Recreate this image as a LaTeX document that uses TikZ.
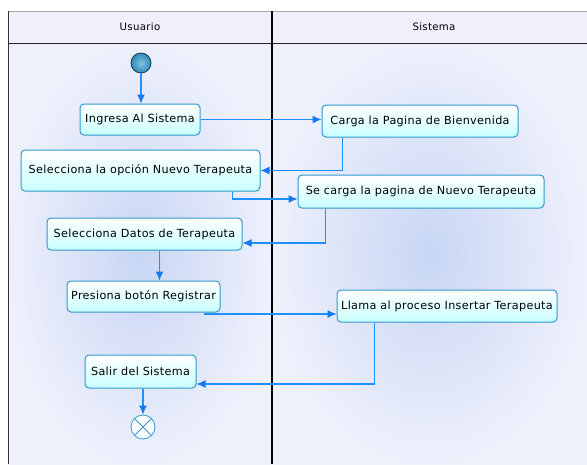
\documentclass[tikz,border=0pt]{standalone}
\usepackage{fontspec}
\setmainfont{DejaVu Sans}[LetterSpace=3]
\usetikzlibrary{arrows.meta,calc}
\definecolor{flowc}{RGB}{30,144,255}
\definecolor{tipc}{RGB}{20,120,240}
\definecolor{boxb}{RGB}{51,153,204}
\definecolor{boxf}{RGB}{200,255,255}
\definecolor{lanein}{RGB}{200,214,244}
\definecolor{laneout}{RGB}{238,240,252}
\definecolor{headf}{RGB}{240,240,252}
\tikzset{
  act/.style={draw=boxb, line width=1pt, rounded corners=4pt, top color=white, bottom color=boxf,
    font=\fontsize{11.2}{13}\selectfont, inner sep=0pt, anchor=center},
  flow/.style={draw=flowc, line width=1.2pt, -{Latex[length=9pt,width=8pt,color=tipc]}},
  lanehead/.style={font=\fontsize{10.2}{12}\selectfont, anchor=center}
}
\begin{document}
\begin{tikzpicture}[x=1pt,y=-1pt]
\useasboundingbox (0,0) rectangle (587,464);
\fill[white] (0,0) rectangle (587,464);
% lanes
\shade[inner color=lanein, outer color=laneout] (8,43) rectangle (272,464);
\shade[inner color=lanein, outer color=laneout] (272,43) rectangle (587,464);
\fill[headf] (8,11) rectangle (587,43);
\draw[gray!70, line width=0.8pt] (8,11) -- (587,11);
\draw[black!80, line width=1pt] (8,11) -- (8,464);
\draw[black!85, line width=1pt] (8,43) -- (587,43);
\draw[black, line width=2pt] (272,11) -- (272,464);
\node[lanehead] (hu) at (140,27) {Usuario};
\node[lanehead] (hs) at (434,27) {Sistema};
% nodes
\node[circle, draw=black!60!boxb, line width=0.8pt, minimum size=20pt, inner sep=0pt,
  inner color=boxb!60, outer color=boxb!90!black] (start) at (141,63) {};
\node[act, minimum width=120pt, minimum height=31pt] (ingresa) at (140,119.5) {Ingresa Al Sistema};
\node[act, minimum width=196pt, minimum height=32pt] (carga) at (420,121) {Carga la Pagina de Bienvenida};
\node[act, minimum width=239pt, minimum height=41pt] (opcion) at (140.5,170.5) {Selecciona la opción Nuevo Terapeuta};
\node[act, minimum width=246pt, minimum height=33pt] (secarga) at (421,191.5) {Se carga la pagina de Nuevo Terapeuta};
\node[act, minimum width=195pt, minimum height=32pt] (datos) at (144.5,234) {Selecciona Datos de Terapeuta};
\node[act, minimum width=153pt, minimum height=31pt] (presiona) at (143.5,296.5) {Presiona botón Registrar};
\node[act, minimum width=220pt, minimum height=32pt] (llama) at (447,306) {Llama al proceso Insertar Terapeuta};
\node[act, minimum width=111pt, minimum height=33pt] (salir) at (140.5,371.5) {Salir del Sistema};
\node[circle, draw=boxb, line width=0.8pt, fill=white, minimum size=24pt, inner sep=0pt] (end) at (143,427) {};
\draw[boxb, line width=0.8pt] ($(end.center)+(-8.5,-8.5)$) -- ($(end.center)+(8.5,8.5)$)
  ($(end.center)+(-8.5,8.5)$) -- ($(end.center)+(8.5,-8.5)$);
% connectors
\draw[flow] (start) -- (start |- ingresa.north);
\draw[flow] (ingresa.east) -- (ingresa.east -| carga.west);
\draw[flow] ([xshift=21pt]carga.south west) |- (opcion.east);
\draw[flow] ([xshift=212pt]opcion.south west) |- ([yshift=-7.5pt]secarga.west);
\draw[flow] ([xshift=28pt]secarga.south west) |- ([yshift=-9pt]datos.east);
\draw[flow] ([xshift=15pt]datos.south) -- ([xshift=15pt]datos.south |- presiona.north);
\draw[flow] ([xshift=-16pt]presiona.south east) |- ([yshift=-8pt]llama.west);
\draw[flow] ([xshift=38pt]llama.south west) |- ([yshift=-12.5pt]salir.east);
\draw[flow] (salir.south -| end) -- (end.north);
\end{tikzpicture}
\end{document}
